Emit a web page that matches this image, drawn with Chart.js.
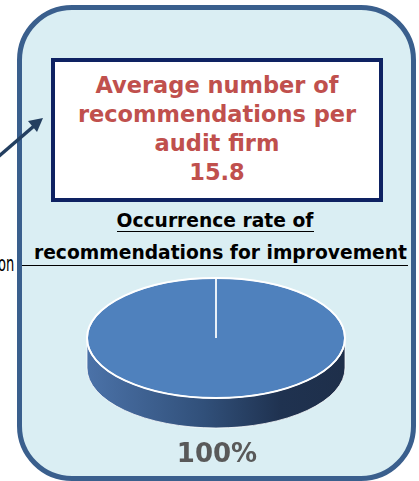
<!DOCTYPE html>
<html>
<head>
<meta charset="utf-8">
<script src="https://cdn.jsdelivr.net/npm/chart.js@4"></script>
<style>
  body { margin: 0; width: 419px; height: 481px; overflow: hidden; position: relative; background: #fff;
         font-family: "DejaVu Sans", Verdana, sans-serif; }
  .abs { position: absolute; }
  #panel { left: 17px; top: 5px; width: 399px; height: 476px; box-sizing: border-box;
           border: 5px solid #3a5f8d; border-radius: 55px; background: #daeef3; }
  #headline { left: 51px; top: 58px; width: 332px; height: 144px; box-sizing: border-box;
              border: 4px solid #0e2262; background: #fff; }
  #avgText { left: 51px; width: 332px; top: 70.6px; text-align: center; color: #c0504d;
             font-weight: bold; font-size: 22.5px; line-height: 29.3px; }
  .sub { font-weight: bold; font-size: 18.7px; line-height: 24px; color: #000; text-align: center; white-space: nowrap; }
  .rule { background: #000; height: 1px; }
  #pieBox { left: 66px; top: 188px; width: 300px; height: 300px; }
  #rateLabel { left: 117px; width: 200px; top: 437px; text-align: center; color: #595959;
               font-weight: bold; font-size: 26px; line-height: 32px; }
  #sideNote { right: 405px; top: 250px; font-size: 21px; line-height: 28px; color: #000; white-space: nowrap;
              transform: scaleX(0.62); transform-origin: right center; }
</style>
</head>
<body>
<div id="panel" class="abs"></div>
<div id="headline" class="abs"></div>
<div id="avgText" class="abs"></div>
<div class="abs sub" id="subTitle1" style="left:115px; width:200px; top:208.5px;"></div>
<div class="abs rule" style="left:117px; width:197px; top:231px;"></div>
<div class="abs sub" id="subTitle2" style="left:20px; width:401px; top:240.8px;"></div>
<div class="abs rule" style="left:22px; width:386px; top:265px;"></div>
<div id="sideNote" class="abs">on</div>
<div id="pieBox" class="abs"><canvas id="chart" width="300" height="300"></canvas></div>
<div id="rateLabel" class="abs"></div>
<svg class="abs" style="left:0; top:0;" width="419" height="481">
  <line x1="-2" y1="157" x2="34" y2="126" stroke="#243f60" stroke-width="3.5"/>
  <polygon points="43,118 28,121 37,132" fill="#243f60"/>
</svg>

<script>
// summary figures
const avgTitleLines = ['Average number of', 'recommendations per', 'audit firm'];
const avgRecommendations = 15.8;
const rateTitleLines = ['Occurrence rate of', 'recommendations for improvement'];

// pie data
const categories = ['Recommendations for improvement'];
const rates = [100];
const sliceColors = ['#4f81bd'];

document.getElementById('avgText').innerHTML = avgTitleLines.concat([String(avgRecommendations)]).join('<br>');
document.getElementById('subTitle1').textContent = rateTitleLines[0];
document.getElementById('subTitle2').textContent = rateTitleLines[1];
document.getElementById('rateLabel').textContent = rates[0] + '%';

const squash = 60 / 129;
const pieDepth = 30;

// flattens the pie into an ellipse and draws the side wall under it
const tiltPlugin = {
    id: 'tilt',
    beforeDatasetsDraw(chart) {
        const ctx = chart.ctx;
        const arc = chart.getDatasetMeta(0).data[0];
        const { x, y, outerRadius: r } = arc;
        const ry = r * squash;

        const side = ctx.createLinearGradient(x - r, 0, x + r, 0);
        side.addColorStop(0, '#4b72a8');
        side.addColorStop(0.45, '#31507a');
        side.addColorStop(0.75, '#1f3250');
        side.addColorStop(1, '#1e2f4a');

        ctx.save();
        ctx.beginPath();
        ctx.ellipse(x, y, r, ry, 0, 0, Math.PI);
        ctx.lineTo(x - r, y + pieDepth);
        ctx.ellipse(x, y + pieDepth, r, ry, 0, Math.PI, 0, true);
        ctx.closePath();
        ctx.fillStyle = side;
        ctx.fill();
        ctx.strokeStyle = 'rgba(255,255,255,0.75)';
        ctx.lineWidth = 1;
        ctx.stroke();
        ctx.restore();

        ctx.save();
        ctx.translate(x, y);
        ctx.scale(1, squash);
        ctx.translate(-x, -y);
    },
    afterDatasetsDraw(chart) {
        const ctx = chart.ctx;
        ctx.restore();
        const arc = chart.getDatasetMeta(0).data[0];
        const { x, y, outerRadius: r } = arc;
        ctx.save();
        ctx.beginPath();
        ctx.ellipse(x, y, r, r * squash, 0, 0, Math.PI * 2);
        ctx.strokeStyle = '#ffffff';
        ctx.lineWidth = 1.8;
        ctx.stroke();
        ctx.restore();
    }
};

const ctx = document.getElementById('chart').getContext('2d');
const myChart = new Chart(ctx, {
    type: 'pie',
    data: {
        labels: categories,
        datasets: [{
            data: rates,
            backgroundColor: sliceColors,
            borderColor: '#e8f0f8',
            borderWidth: 2
        }]
    },
    options: {
        responsive: false,
        animation: false,
        events: [],
        radius: 129,
        plugins: {
            legend: { display: false },
            tooltip: { enabled: false }
        }
    },
    plugins: [tiltPlugin]
});
</script>
</body>
</html>
